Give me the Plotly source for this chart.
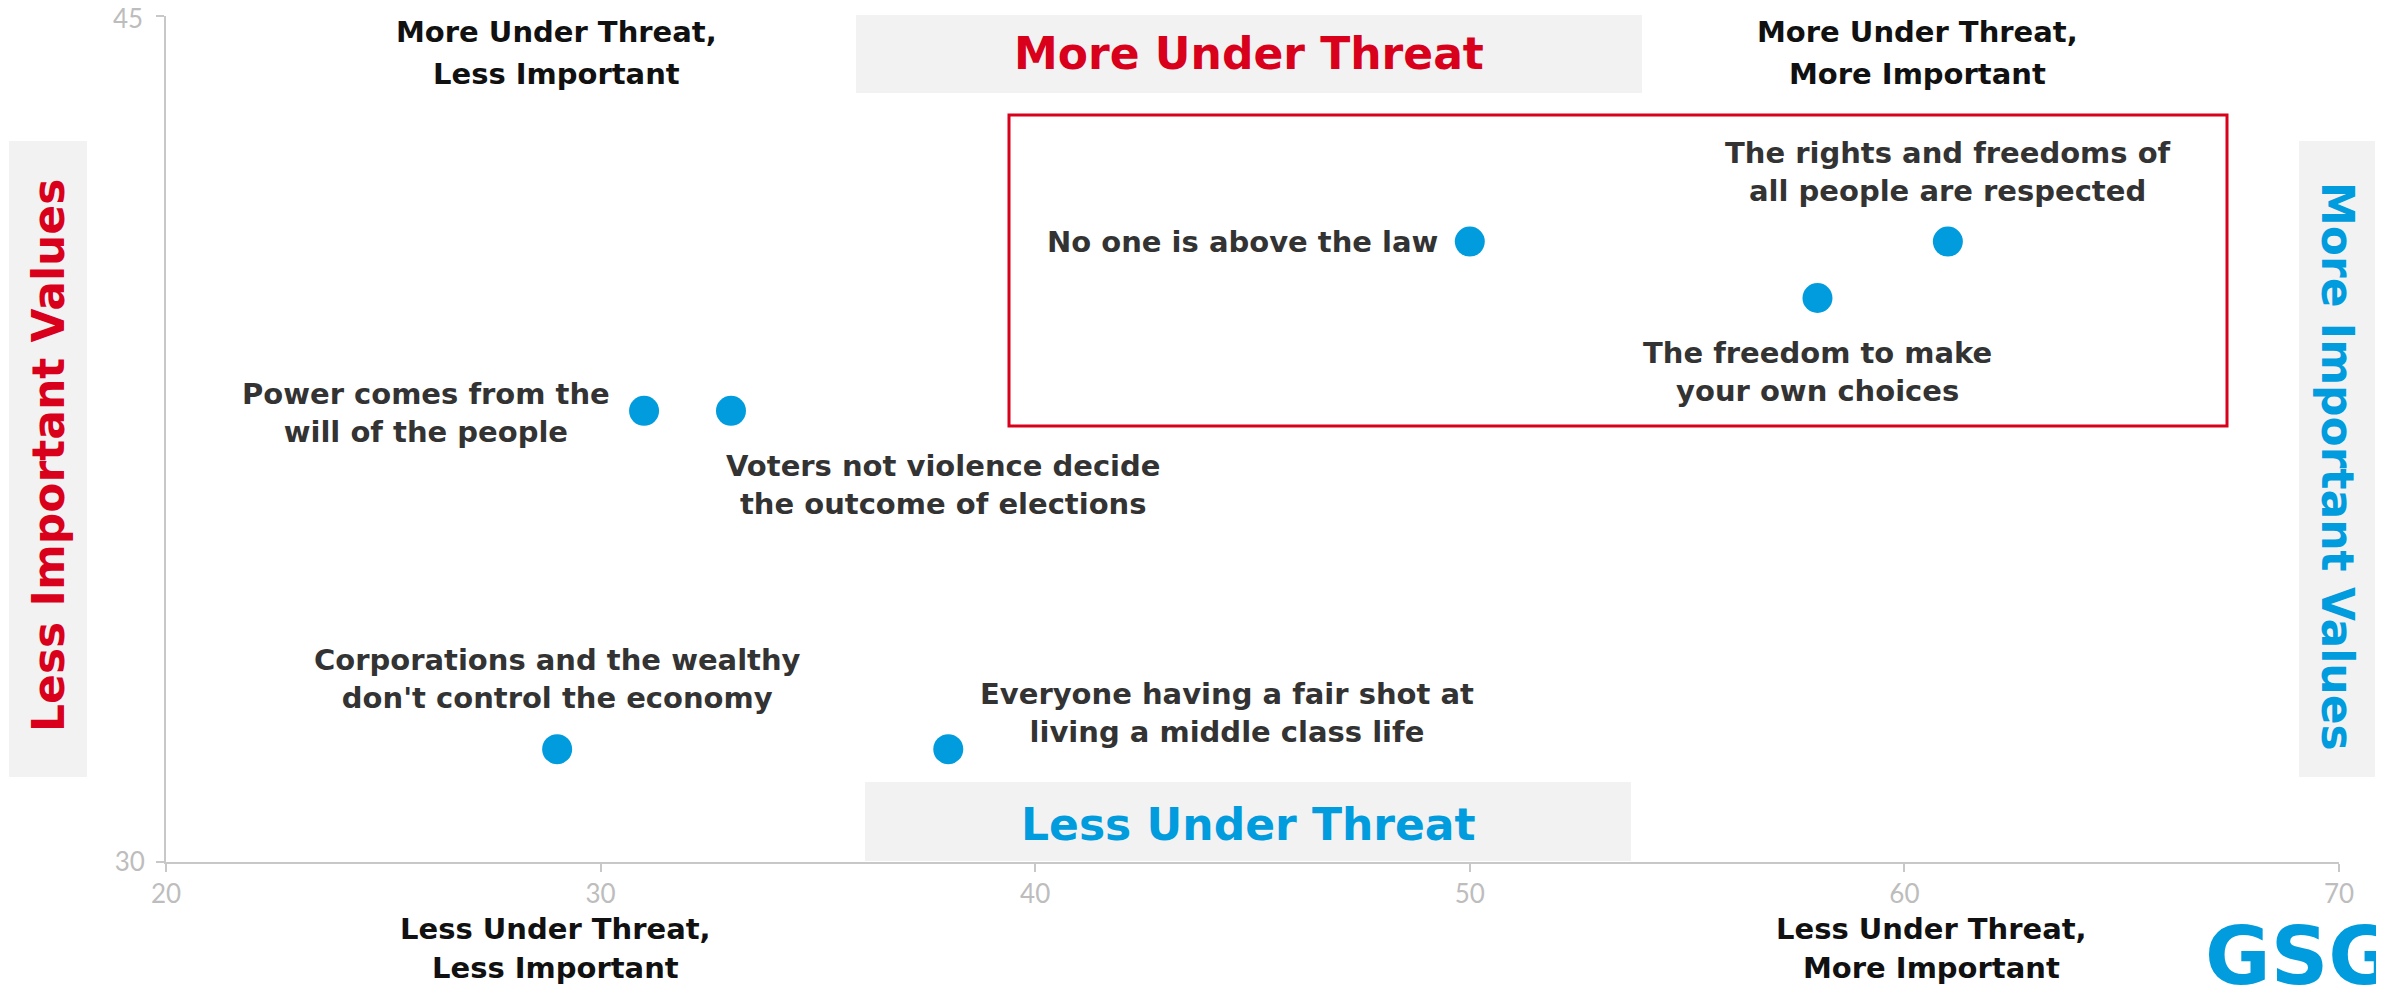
import plotly.graph_objects as go

# ---- data ----
values = [
    "No one is above the law",
    "The rights and freedoms of<br>all people are respected",
    "The freedom to make<br>your own choices",
    "Power comes from the<br>will of the people",
    "Voters not violence decide<br>the outcome of elections",
    "Corporations and the wealthy<br>don't control the economy",
    "Everyone having a fair shot at<br>living a middle class life",
]
importance = [50, 61, 58, 31, 33, 29, 38]   # x
threat = [41, 41, 40, 38, 38, 32, 32]        # y

x_ticks = [20, 30, 40, 50, 60, 70]
y_ticks = [30, 45]

# label placement (style only)
placement = [
    dict(xanchor="right", yanchor="middle", xshift=-30, yshift=0),
    dict(xanchor="center", yanchor="bottom", xshift=0, yshift=32),
    dict(xanchor="center", yanchor="top", xshift=0, yshift=-36),
    dict(xanchor="right", yanchor="middle", xshift=-32, yshift=-2),
    dict(xanchor="left", yanchor="top", xshift=-7, yshift=-36),
    dict(xanchor="center", yanchor="bottom", xshift=0, yshift=32),
    dict(xanchor="left", yanchor="bottom", xshift=30, yshift=-2),
]

OFF = 8  # page body margin
W, H = 2384 - OFF, 985 - OFF
L, R, T, B = 166 - OFF, 45, 16 - OFF, 123
PW, PH = W - L - R, H - T - B

def px(x):
    return (x - OFF - L) / PW

def py(y):
    return (H - B - (y - OFF)) / PH

RED = "#d9001b"
BLUE = "#009cde"
GREY_BOX = "#f2f2f2"
FONT = "DejaVu Sans"
TICK_FONT = dict(family="Lato", size=26, color="#bdbdbd")

fig = go.Figure()
fig.add_trace(go.Scatter(
    x=importance, y=threat, mode="markers",
    marker=dict(size=30, color=BLUE),
    hoverinfo="skip", showlegend=False,
))

shapes = []
def box(x0, y0, x1, y1, fill=GREY_BOX):
    shapes.append(dict(type="rect", xref="paper", yref="paper",
                       x0=px(x0), x1=px(x1), y0=py(y1), y1=py(y0),
                       fillcolor=fill, layer="below",
                       line=dict(width=0, color="rgba(0,0,0,0)")))

box(856, 15, 1642, 93)       # More Under Threat
box(865, 782, 1631, 861)     # Less Under Threat
box(9, 141, 87, 777)         # Less Important Values
box(2299, 141, 2375, 777)    # More Important Values
shapes.append(dict(type="rect", xref="paper", yref="paper",
                   x0=px(1009), x1=px(2227), y0=py(426), y1=py(115),
                   fillcolor="rgba(0,0,0,0)", layer="above",
                   line=dict(width=3, color=RED)))

ann = []
def text(t, x, y, size, color, angle=0, xanchor="center", yanchor="middle"):
    ann.append(dict(text=t, xref="paper", yref="paper", x=px(x), y=py(y),
                    showarrow=False, textangle=angle, xanchor=xanchor, yanchor=yanchor,
                    font=dict(family=FONT, size=size, color=color, weight="bold")))

text("More Under Threat", 1249, 54, 44, RED)
text("Less Under Threat", 1248, 824, 44, BLUE)
text("Less Important Values", 48, 456, 44, RED, angle=-90)
text("More Important Values", 2338, 466, 44, BLUE, angle=90)

corner = "#111111"
text("More Under Threat,", 556, 32, 29, corner)
text("Less Important", 556, 74, 29, corner)
text("More Under Threat,", 1917, 32, 29, corner)
text("More Important", 1917, 74, 29, corner)
text("Less Under Threat,", 555, 929, 29, corner)
text("Less Important", 555, 968, 29, corner)
text("Less Under Threat,", 1931, 929, 29, corner)
text("More Important", 1931, 968, 29, corner)

text("GSG", 2203, 908, 80, BLUE, xanchor="left", yanchor="top")

# top y tick label drawn as text so it stays inside the page
ann.append(dict(text=str(y_ticks[-1]), xref="paper", yref="y", x=px(145), y=y_ticks[-1],
                yshift=-2, xanchor="right", yanchor="middle", showarrow=False, font=TICK_FONT))

for lab, xv, yv, p in zip(values, importance, threat, placement):
    ann.append(dict(text=lab, x=xv, y=yv, xref="x", yref="y", showarrow=False,
                    align="center", font=dict(family=FONT, size=29, color="#333333", weight="bold"),
                    **p))

axis_common = dict(
    showgrid=False, zeroline=False, showline=True, linecolor="#c8c8c8", linewidth=2,
    ticks="outside", ticklen=8, tickwidth=2, tickcolor="#c8c8c8",
    tickfont=TICK_FONT, automargin=False, ticklabeloverflow="allow",
)

fig.update_layout(
    width=W, height=H, autosize=False,
    margin=dict(l=L, r=R, t=T, b=B),
    paper_bgcolor="white", plot_bgcolor="white",
    xaxis=dict(range=[20, 70], tickvals=x_ticks, ticktext=[str(v) for v in x_ticks], **axis_common),
    yaxis=dict(range=[30, 45], tickvals=y_ticks,
               ticktext=[str(y_ticks[0])] + [""] * (len(y_ticks) - 1),
               ticklabelstandoff=6, **axis_common),
    shapes=shapes, annotations=ann,
)

fig.write_html("out.html")
